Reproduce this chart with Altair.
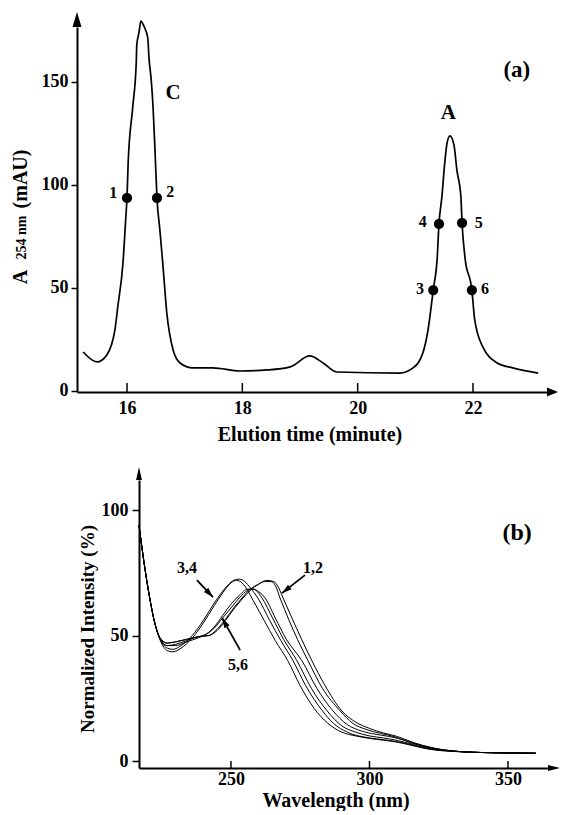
import altair as alt
import pandas as pd

FONT = "Liberation Serif"

# ---------------- (a) chromatogram ----------------
elution_time = [15.24, 15.48, 15.65, 15.79, 15.84, 15.93, 15.98, 16.00, 16.02, 16.10,
                16.16, 16.17, 16.21, 16.24, 16.30, 16.36, 16.38, 16.42, 16.45, 16.49,
                16.52, 16.57, 16.62, 16.69, 16.80, 16.92, 17.14, 17.49, 17.96, 18.43,
                18.83, 19.17, 19.40, 19.64, 20.73, 20.96, 21.13, 21.22, 21.31, 21.38,
                21.41, 21.46, 21.51, 21.55, 21.60, 21.67, 21.72, 21.79, 21.81, 21.86,
                21.98, 22.03, 22.17, 22.42, 22.69, 23.13]
absorbance = [18.9, 14.1, 17.5, 29.6, 40.8, 62.1, 84.5, 93.7, 110.7, 137.9,
              159.2, 168.0, 174.3, 179.6, 176.7, 171.4, 162.1, 151.0, 138.8, 113.6,
              93.7, 78.2, 62.1, 37.9, 19.9, 13.6, 11.2, 11.2, 9.7, 10.2,
              11.7, 17.0, 13.6, 9.2, 8.7, 11.2, 18.4, 29.6, 49.0, 65.0,
              81.1, 94.2, 110.7, 120.4, 123.8, 119.4, 107.3, 94.2, 81.6, 65.0,
              49.0, 34.5, 21.4, 13.6, 11.2, 8.7]

point_time = [16.00, 16.52, 21.31, 21.41, 21.81, 21.98]
point_abs = [93.7, 93.7, 49.0, 81.1, 81.6, 49.0]
point_label = ["1", "2", "3", "4", "5", "6"]
label_time = [15.76, 16.75, 21.08, 21.13, 22.10, 22.21]
label_abs = [96.1, 96.6, 49.5, 82.0, 81.6, 49.5]

peak_names = ["C", "A"]
peak_time = [16.80, 21.57]
peak_abs = [144.7, 135.0]
panel_a_time = [22.76]
panel_a_abs = [155.8]

time_ticks = [16, 18, 20, 22]
abs_ticks = [0, 50, 100, 150]

# ---------------- (b) spectra ----------------
wl_1 = [216.8, 218.5, 220.5, 222.5, 224.5, 227, 230, 234, 238, 242, 245, 248, 251, 254, 257, 260, 262,
        264.5, 266, 267.7, 271, 274, 277.8, 283, 289.4, 294, 299, 304, 309, 315, 322, 330, 340, 350, 360]
in_1 = [94, 80, 66, 55, 48.5, 47, 47.5, 48.5, 49.5, 50, 52.5, 56.5, 61, 65, 68.5, 70.5, 71.5,
        71.5, 70, 65, 56, 48.5, 40, 29, 20, 15, 12.5, 11, 9.7, 7.2, 5.2, 4, 3.4, 3.2, 3.1]
wl_2 = [216.8, 218.5, 220.5, 222.5, 224.5, 227, 230, 234, 238, 242, 245, 248, 251, 254, 257, 260, 263,
        265.5, 267, 268.8, 272, 275.5, 279.2, 284, 290, 295, 300, 305, 310, 316, 323, 330, 340, 350, 360]
in_2 = [94, 80, 66, 55, 48.5, 46, 46.5, 48, 49.5, 50, 52, 56, 60.5, 64.5, 68, 70.5, 72,
        71.5, 69.5, 65, 57, 48.5, 40, 30, 20, 15.5, 13, 11.2, 9.8, 7.3, 5.2, 4, 3.4, 3.2, 3.1]
wl_3 = [216.8, 218.5, 220.5, 222.5, 224.5, 227, 229, 232, 236, 240, 244, 247, 250, 252, 254, 256, 258,
        262, 266, 270.5, 275, 280, 285, 290, 295, 300, 305, 310, 315, 320, 325, 330, 340, 350, 360]
in_3 = [94, 80, 66, 55, 48, 44, 43.5, 45, 49, 55, 62, 67, 71, 72, 71, 68, 64,
        56, 48, 40, 30, 21, 15, 11.5, 10, 9, 8.3, 7.5, 6.3, 5, 4.2, 3.8, 3.4, 3.2, 3.1]
wl_4 = [216.8, 218.5, 220.5, 222.5, 224.5, 227, 229, 232, 236, 240, 244, 248, 251, 253, 255, 257, 259.7,
        264, 268, 272.4, 277, 283, 287, 292, 300, 305, 310, 315, 320, 330, 340, 350, 360]
in_4 = [94, 80, 66, 55, 48.5, 45, 44.5, 46, 50, 56, 63, 69, 72, 72.5, 71.5, 69, 65,
        56, 48, 40, 30, 20, 15, 11.5, 9.2, 8.5, 7.7, 6.5, 5.2, 3.9, 3.4, 3.2, 3.1]
wl_5 = [216.8, 218.5, 220.5, 222.5, 224.5, 227, 230, 234, 238, 241, 244, 247, 250, 253, 256, 258, 259,
        261.2, 265, 269, 273.8, 279, 284.7, 290, 295, 300, 305, 310, 315, 320, 330, 340, 350, 360]
in_5 = [94, 80, 66, 55, 49, 47, 47.5, 48.5, 49.5, 50.5, 53, 57, 61, 65, 68, 68.5, 68,
        65, 57, 48.5, 40, 29, 20, 14, 11.5, 10, 9.2, 8.2, 6.8, 5.3, 3.9, 3.4, 3.2, 3.1]
wl_6 = [216.8, 218.5, 220.5, 222.5, 224.5, 227, 230, 234, 238, 241, 244, 247, 250, 253, 256, 258, 260,
        262.3, 266, 270, 275.6, 281, 286.8, 292, 297, 302, 307, 312, 318, 325, 332, 340, 350, 360]
in_6 = [94, 80, 66, 55, 48.5, 46, 46, 47.5, 49, 50.5, 53.5, 58, 62.5, 66, 68.5, 68.5, 67.5,
        65, 57, 48.5, 40, 29, 20, 14.5, 12, 10.7, 9.8, 8.5, 6.5, 4.7, 3.8, 3.4, 3.2, 3.1]

group_names = ["3,4", "5,6", "1,2"]
group_wl = [234.1, 252.5, 279.6]
group_int = [76.9, 38.2, 76.9]
arrow_tail_wl = [237.7, 253.3, 276.7]
arrow_tail_int = [72.1, 44.2, 74.1]
arrow_tip_wl = [243.5, 246.8, 268.4]
arrow_tip_int = [65.3, 57.0, 66.9]
arrow_angle = [136.7, 330.6, 232.0]
panel_b_wl = [353.3]
panel_b_int = [90.8]

wl_ticks = [250, 300, 350]
int_ticks = [0, 50, 100]

# ---------------- layout constants ----------------
W1, H1 = 470, 365
SHIFT = 62            # bottom panel plot starts this far right of the top one
W2, H2 = 409, 288
TDOM = [15.133, 23.283]
ADOM = [-0.5, 176.7]
WDOM = [216.8, 364.45]
IDOM = [-2.79, 112.0]

dummy = pd.DataFrame({"k": [0]})


def x_enc(domain, values, pad, rng=None):
    sc = alt.Scale(domain=domain, nice=False, zero=False)
    if rng is not None:
        sc = alt.Scale(domain=domain, nice=False, zero=False, range=rng)
    return alt.X("x:Q", scale=sc,
                 axis=alt.Axis(values=values, title=None, ticks=False, tickSize=0,
                               labelPadding=pad, domainWidth=2, domainColor="black",
                               labelColor="black", labelFont=FONT, labelFontSize=18,
                               labelFontWeight="bold", grid=False, labelOverlap=False,
                               labelFlush=False))


def y_enc(domain, values, tick, pad, offset=0):
    return alt.Y("y:Q", scale=alt.Scale(domain=domain, nice=False, zero=False),
                 axis=alt.Axis(values=values, title=None, tickSize=tick, tickWidth=1.5,
                               tickColor="black", labelPadding=pad, domainWidth=2,
                               domainColor="black", labelColor="black", labelFont=FONT,
                               labelFontSize=18, labelFontWeight="bold", grid=False,
                               labelOverlap=False, labelFlush=False, offset=offset))


def txt(size, **kw):
    return dict(font=FONT, fontSize=size, fontWeight="bold", color="black", **kw)


# ================= chart (a) =================
X1 = x_enc(TDOM, time_ticks, 7)
Y1 = y_enc(ADOM, abs_ticks, 6, 3)

df_curve = pd.DataFrame({"x": elution_time, "y": absorbance, "i": range(len(elution_time))})
df_pts = pd.DataFrame({"x": point_time, "y": point_abs})
df_plab = pd.DataFrame({"x": label_time, "y": label_abs, "t": point_label})
df_peak = pd.DataFrame({"x": peak_time, "y": peak_abs, "t": peak_names})
df_pa = pd.DataFrame({"x": panel_a_time, "y": panel_a_abs, "t": ["(a)"]})
df_tt = pd.DataFrame({"x": time_ticks})

a_curve = alt.Chart(df_curve).mark_line(color="black", strokeWidth=1.7, interpolate="monotone").encode(
    x=X1, y=Y1, order=alt.Order("i:Q"))
a_pts = alt.Chart(df_pts).mark_circle(size=105, color="black", opacity=1).encode(x=X1, y=Y1)
a_plab = alt.Chart(df_plab).mark_text(**txt(16)).encode(x=X1, y=Y1, text="t:N")
a_peak = alt.Chart(df_peak).mark_text(**txt(21)).encode(x=X1, y=Y1, text="t:N")
a_pa = alt.Chart(df_pa).mark_text(**txt(23)).encode(x=X1, y=Y1, text="t:N")
a_ticks = alt.Chart(df_tt).mark_rule(color="black", strokeWidth=1.5).encode(
    x=X1, y=alt.value(H1), y2=alt.value(H1 - 9))
a_yarrow = alt.Chart(dummy).mark_point(shape="M0,-2L0.6,0L-0.6,0Z", size=225, filled=True,
                                       color="black", opacity=1, strokeWidth=0).encode(
    x=alt.value(0), y=alt.value(0))
a_xarrow = alt.Chart(dummy).mark_point(shape="M2,0L0,0.8L0,-0.8Z", size=121, filled=True,
                                       color="black", opacity=1, strokeWidth=0).encode(
    x=alt.value(W1), y=alt.value(H1))
a_xtitle = alt.Chart(dummy).mark_text(text="Elution time (minute)", baseline="middle",
                                      **txt(20)).encode(x=alt.value(233), y=alt.value(408))
a_yt1 = alt.Chart(dummy).mark_text(text="A", angle=270, baseline="middle", **txt(20)).encode(
    x=alt.value(-56.5), y=alt.value(250))
a_yt2 = alt.Chart(dummy).mark_text(text="254 nm", angle=270, baseline="middle", **txt(14)).encode(
    x=alt.value(-55), y=alt.value(210.5))
a_yt3 = alt.Chart(dummy).mark_text(text="(mAU)", angle=270, baseline="middle", **txt(20)).encode(
    x=alt.value(-56.5), y=alt.value(152))
a_anchor = alt.Chart(dummy).mark_rule(strokeOpacity=0, strokeWidth=1).encode(
    x=alt.value(-69), y=alt.value(-19), y2=alt.value(H1 + 59))

chart_a = alt.layer(a_anchor, a_curve, a_ticks, a_pts, a_plab, a_peak, a_pa, a_yarrow, a_xarrow,
                    a_xtitle, a_yt1, a_yt2, a_yt3).properties(width=W1, height=H1)

# ================= chart (b) =================
X2 = x_enc(WDOM, wl_ticks, 2, rng=[SHIFT, SHIFT + W2])
Y2 = y_enc(IDOM, int_ticks, 7, 4, offset=-SHIFT)

rows = []
for name, wl, iv in [("1", wl_1, in_1), ("2", wl_2, in_2), ("3", wl_3, in_3),
                     ("4", wl_4, in_4), ("5", wl_5, in_5), ("6", wl_6, in_6)]:
    for k, (w, v) in enumerate(zip(wl, iv)):
        rows.append({"x": w, "y": v, "curve": name, "i": k})
df_spec = pd.DataFrame(rows)
df_glab = pd.DataFrame({"x": group_wl, "y": group_int, "t": group_names})
df_arr = pd.DataFrame({"x": arrow_tail_wl, "y": arrow_tail_int,
                       "x2": arrow_tip_wl, "y2": arrow_tip_int})
df_head = pd.DataFrame({"x": arrow_tip_wl, "y": arrow_tip_int, "ang": arrow_angle})
df_pb = pd.DataFrame({"x": panel_b_wl, "y": panel_b_int, "t": ["(b)"]})
df_wt = pd.DataFrame({"x": wl_ticks})

b_lines = alt.Chart(df_spec).mark_line(color="black", strokeWidth=1, interpolate="monotone").encode(
    x=X2, y=Y2, detail="curve:N", order=alt.Order("i:Q"))
b_glab = alt.Chart(df_glab).mark_text(**txt(16)).encode(x=X2, y=Y2, text="t:N")
b_arr = alt.Chart(df_arr).mark_rule(color="black", strokeWidth=1.8).encode(
    x=X2, y=Y2, x2="x2:Q", y2="y2:Q")
b_head = alt.Chart(df_head).mark_point(shape="M0,0L0.6,2L-0.6,2Z", size=100, filled=True,
                                       color="black", opacity=1, strokeWidth=0).encode(
    x=X2, y=Y2, angle=alt.Angle("ang:Q", scale=None))
b_pb = alt.Chart(df_pb).mark_text(**txt(24)).encode(x=X2, y=Y2, text="t:N")
b_ticks = alt.Chart(df_wt).mark_rule(color="black", strokeWidth=1.5).encode(
    x=X2, y=alt.value(H2), y2=alt.value(H2 - 7))
b_yarrow = alt.Chart(dummy).mark_point(shape="M0,-2L0.45,0L-0.45,0Z", size=169, filled=True,
                                       color="black", opacity=1, strokeWidth=0).encode(
    x=alt.value(SHIFT), y=alt.value(0))
b_xarrow = alt.Chart(dummy).mark_point(shape="M2,0L0,0.5L0,-0.5Z", size=144, filled=True,
                                       color="black", opacity=1, strokeWidth=0).encode(
    x=alt.value(SHIFT + W2), y=alt.value(H2))
b_xtitle = alt.Chart(dummy).mark_text(text="Wavelength (nm)", baseline="middle", **txt(20)).encode(
    x=alt.value(SHIFT + 197), y=alt.value(321))
b_ytitle = alt.Chart(dummy).mark_text(text="Normalized Intensity (%)", angle=270,
                                      baseline="middle", **txt(19)).encode(
    x=alt.value(SHIFT - 51), y=alt.value(149))
b_anchor = alt.Chart(dummy).mark_rule(strokeOpacity=0, strokeWidth=1).encode(
    x=alt.value(SHIFT), y=alt.value(-29), y2=alt.value(H2))

chart_b = alt.layer(b_anchor, b_lines, b_ticks, b_arr, b_head, b_glab, b_pb, b_yarrow, b_xarrow,
                    b_xtitle, b_ytitle).properties(width=SHIFT + W2, height=H2)

chart = alt.vconcat(chart_a, chart_b, spacing=0).properties(padding=0, background="white").configure_view(
    stroke=None)

chart.save("out.html", embed_options={"renderer": "svg", "actions": False})
